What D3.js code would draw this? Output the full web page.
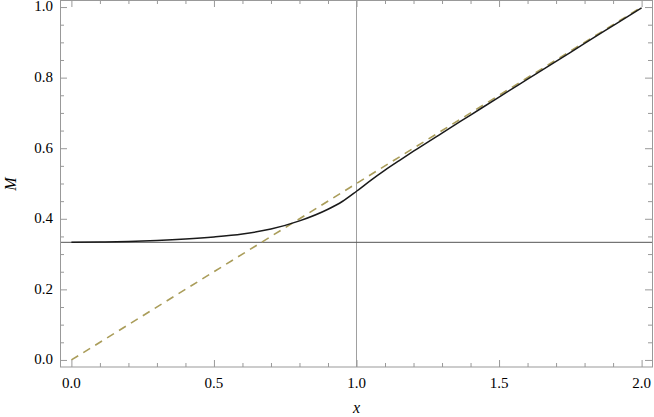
<!DOCTYPE html>
<html lang="en">
<head>
<meta charset="UTF-8">
<script src="https://d3js.org/d3.v7.min.js"></script>
<style>
    body { margin: 0; }
    #wrap { position: relative; width: 654px; height: 417px; }
    #wrap svg { position: absolute; left: 0; top: 0; }
    .lbl {
        position: absolute;
        font-family: "Liberation Serif", "Times New Roman", serif;
        font-size: 15px;
        line-height: 15px;
        white-space: nowrap;
        color: #000;
    }
</style>
</head>
<body>
<div id="wrap"></div>
<script>
// curve
const xs = [0, 0.1, 0.2, 0.3, 0.4, 0.5, 0.6, 0.7, 0.8, 0.9, 0.95, 1.0, 1.05, 1.1, 1.15, 1.2, 1.3, 1.4, 1.5, 1.6, 1.7, 1.8, 1.9, 2.0];
const ms = [0.3333, 0.3339, 0.3355, 0.3383, 0.3425, 0.3485, 0.357, 0.371, 0.394, 0.427, 0.449, 0.478, 0.509, 0.538, 0.565, 0.5915, 0.643, 0.694, 0.745, 0.7955, 0.846, 0.897, 0.9475, 0.998];
// dashed asymptote
const lineX = [0, 2];
const lineM = [0, 1];
// reference lines
const hLine = 1 / 3;
const vLine = 1;

const xTicks = [0, 0.5, 1.0, 1.5, 2.0];
const yTicks = [0, 0.2, 0.4, 0.6, 0.8, 1.0];

const width = 654, height = 417;
const padL = 60, padR = 653, padT = 0, padB = 367;
const frameColor = "#999";

const wrap = d3.select("#wrap");
const svg = wrap.append("svg")
    .attr("width", width)
    .attr("height", height);

const x = d3.scaleLinear().domain([-0.04, 2.04]).range([padL, padR]);
const y = d3.scaleLinear().domain([-0.02, 1.02]).range([padB, padT]);

// reference lines
svg.append("line")
    .attr("x1", x(vLine)).attr("x2", x(vLine))
    .attr("y1", padT).attr("y2", padB)
    .attr("stroke", "#a0a0a0").attr("stroke-width", 1);
svg.append("line")
    .attr("x1", padL).attr("x2", padR)
    .attr("y1", y(hLine)).attr("y2", y(hLine))
    .attr("stroke", "#555").attr("stroke-width", 1);

svg.append("clipPath").attr("id", "plotclip")
    .append("rect").attr("x", padL).attr("y", padT)
    .attr("width", padR - padL).attr("height", padB - padT);

const plot = svg.append("g").attr("clip-path", "url(#plotclip)");

plot.append("path")
    .datum(lineX.map((d, i) => [d, lineM[i]]))
    .attr("fill", "none")
    .attr("stroke", "#aa9d5a")
    .attr("stroke-width", 1.6)
    .attr("stroke-dasharray", "8,6")
    .attr("d", d3.line().x(d => x(d[0])).y(d => y(d[1])));

plot.append("path")
    .datum(xs.map((d, i) => [d, ms[i]]))
    .attr("fill", "none")
    .attr("stroke", "#1a1a1a")
    .attr("stroke-width", 1.5)
    .attr("d", d3.line().curve(d3.curveMonotoneX).x(d => x(d[0])).y(d => y(d[1])));

// frame
svg.append("rect")
    .attr("x", padL + 0.5).attr("y", padT + 0.5)
    .attr("width", padR - padL - 1).attr("height", padB - padT - 0.5)
    .attr("fill", "none").attr("stroke", frameColor).attr("stroke-width", 1);

// ticks on all four sides
const xMinor = d3.range(0, 2.001, 0.1).filter(v => !xTicks.some(t => Math.abs(t - v) < 1e-6));
const yMinor = d3.range(0, 1.001, 0.05).filter(v => !yTicks.some(t => Math.abs(t - v) < 1e-6));

function styleAxis(sel) {
    sel.select(".domain").remove();
    sel.selectAll(".tick line").attr("stroke", frameColor);
    sel.selectAll(".tick text").remove();
}

const sides = [
    [d3.axisBottom, x, xTicks, xMinor, `translate(0,${padB})`],
    [d3.axisLeft, y, yTicks, yMinor, `translate(${padL},0)`],
    [d3.axisTop, x, xTicks, xMinor, `translate(0,${padT})`],
    [d3.axisRight, y, yTicks, yMinor, `translate(${padR - 1},0)`]
];
sides.forEach(([axisFn, scale, major, minor, tr]) => {
    svg.append("g").attr("transform", tr)
        .call(axisFn(scale).tickValues(major).tickSize(-7))
        .call(styleAxis);
    svg.append("g").attr("transform", tr)
        .call(axisFn(scale).tickValues(minor).tickSize(-4))
        .call(styleAxis);
});

// tick labels as html text over the svg (baseline ~12.6px below box top)
const fmt = d3.format(".1f");
wrap.selectAll("div.xlab").data(xTicks).join("div")
    .attr("class", "lbl xlab")
    .style("left", d => x(d) + "px")
    .style("top", (389 - 12.6) + "px")
    .style("transform", "translateX(-50%)")
    .text(fmt);
wrap.selectAll("div.ylab").data(yTicks).join("div")
    .attr("class", "lbl ylab")
    .style("right", (width - 53) + "px")
    .style("top", d => (y(d) + 5 - 12.6) + "px")
    .text(fmt);

// axis titles
wrap.append("div")
    .attr("class", "lbl")
    .style("font-size", "16px").style("font-style", "italic")
    .style("left", ((padL + padR) / 2) + "px")
    .style("top", (413 - 13.5) + "px")
    .style("transform", "translateX(-50%)")
    .text("x");
wrap.append("div")
    .attr("class", "lbl")
    .style("font-size", "16px").style("font-style", "italic")
    .style("left", "0px")
    .style("top", ((padT + padB) / 2) + "px")
    .style("transform", "translate(3px, 0) rotate(-90deg) translate(-50%, 0)")
    .style("transform-origin", "0 0")
    .text("M");
</script>
</body>
</html>
